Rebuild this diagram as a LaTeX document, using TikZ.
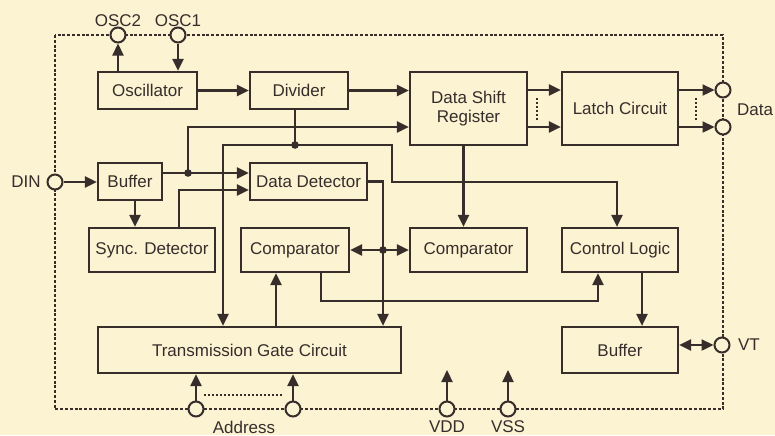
\documentclass[tikz,border=0pt]{standalone}
\usepackage{fontspec}
\setmainfont{Liberation Sans}
\usetikzlibrary{arrows.meta}
\definecolor{paper}{RGB}{252,243,211}
\definecolor{ink}{RGB}{55,45,43}
\begin{document}
\begin{tikzpicture}[x=0.5pt,y=-0.5pt,
  every node/.style={font=\fontsize{8.5}{9.5}\selectfont, text=ink},
  blk/.style={draw=ink, line width=1.1pt, inner sep=0pt, align=center},
  pin/.style={circle, draw=ink, fill=paper, line width=1pt, minimum size=7.5pt, inner sep=0pt},
  wire/.style={draw=ink, line width=1.15pt},
  arr/.style={wire, -{Triangle[length=6pt,width=5.5pt]}},
  dblarr/.style={wire, {Triangle[length=6pt,width=5.5pt]}-{Triangle[length=6pt,width=5.5pt]}},
  frame/.style={draw=ink, line width=0.9pt, dash pattern=on 1.5pt off 0.9pt},
  tick/.style={draw=ink, line width=0.8pt, dash pattern=on 1.2pt off 0.8pt}]
\fill[paper] (0,0) rectangle (775,435);
\useasboundingbox (0,0) rectangle (775,435);
\draw[frame] (55,35) rectangle (723,409);

\node[blk, minimum width=49.5pt, minimum height=18.5pt] (osc) at (147.5,90.5) {Oscillator};
\node[blk, minimum width=49pt, minimum height=18.5pt] (div) at (299,90.5) {Divider};
\node[blk, minimum width=58.5pt, minimum height=36.5pt] (dsr) at (468.5,108.5) {Data Shift\\Register};
\node[blk, minimum width=58pt, minimum height=36.5pt] (latch) at (620,108.5) {Latch Circuit};
\node[blk, minimum width=32pt, minimum height=18.5pt] (bufa) at (130,181.5) {Buffer};
\node[blk, minimum width=58.5pt, minimum height=18.5pt] (dd) at (308.5,181.5) {Data Detector};
\node[blk, minimum width=63pt, minimum height=22pt] (syncd) at (152,250) {Sync. Detector};
\node[blk, minimum width=54pt, minimum height=22pt] (cmpa) at (295,250) {Comparator};
\node[blk, minimum width=58.5pt, minimum height=22pt] (cmpb) at (468.5,250) {Comparator};
\node[blk, minimum width=58pt, minimum height=22pt] (ctrl) at (620,250) {Control Logic};
\node[blk, minimum width=151.5pt, minimum height=23pt] (tgc) at (249.5,350) {Transmission Gate Circuit};
\node[blk, minimum width=58pt, minimum height=23pt] (bufb) at (620,350) {Buffer};

\node[pin] (osctwo) at (118,35) {};
\node[pin] (oscone) at (178,35) {};
\node[pin] (din) at (55,182) {};
\node[pin] (dataa) at (723,90) {};
\node[pin] (datab) at (723,127) {};
\node[pin] (vt) at (722,345) {};
\node[pin] (addra) at (196,409) {};
\node[pin] (addrb) at (293,409) {};
\node[pin] (vdd) at (447,409) {};
\node[pin] (vss) at (508,409) {};

\node (osctwolbl) at (118,21) {OSC2};
\node (oscamlbl) at (178,21) {OSC1};
\node (dinlbl) at (26,182) {DIN};
\node (datalbl) at (755,110) {Data};
\node (vtlbl) at (749,345) {VT};
\node (addrlbl) at (244,427) {Address};
\node (vddlbl) at (447,427) {VDD};
\node (vsslbl) at (508,427) {VSS};

\coordinate (jbuf) at (188,173);
\coordinate (jdiv) at (295,145);
\coordinate (jdd) at (383,250);
\coordinate (vddend) at (447,370);
\coordinate (vssend) at (508,370);

\draw[arr] (osc.north -| osctwo) -- (osctwo);
\draw[arr] (oscone) -- (osc.north -| oscone);
\draw[arr] (osc) -- (div);
\draw[arr] (div) -- (dsr.west |- div);
\draw[arr] (dsr.east |- dataa) -- (latch.west |- dataa);
\draw[arr] (dsr.east |- datab) -- (latch.west |- datab);
\draw[arr] (latch.east |- dataa) -- (dataa);
\draw[arr] (latch.east |- datab) -- (datab);
\draw[tick] (537,98) -- (537,120);
\draw[tick] (696,98) -- (696,120);

\draw[arr] (din) -- (bufa.west |- din);
\draw[wire] (bufa.east |- jbuf) -- (jbuf);
\draw[arr] (jbuf) -- (dd.west |- jbuf);
\draw[arr] (jbuf) |- (dsr.west |- datab);
\draw[arr] ([xshift=2.5pt]bufa.south) -- ([xshift=2.5pt]bufa.south |- syncd.north);
\draw[arr] ([xshift=13.5pt]syncd.north) |- ([yshift=-4.25pt]dd.west);

\draw[wire] ([xshift=-2pt]div.south) -- (jdiv);
\draw[arr] (jdiv) -| (tgc.north -| 223,0);
\draw[arr] (jdiv) -| (392,182) -| ([xshift=-1.5pt]ctrl.north);
\draw[arr] ([xshift=-2.5pt]dsr.south) -- ([xshift=-2.5pt]cmpb.north);

\draw[wire] (dd.east) -| (jdd);
\draw[arr] (jdd) -- (cmpa);
\draw[arr] (jdd) -- (cmpb);
\draw[arr] (jdd) -- (tgc.north -| jdd);
\draw[arr] ([xshift=13pt]cmpa.south) -- ++(0,-14pt) -| ([xshift=-11pt]ctrl.south);
\draw[arr] ([xshift=13.25pt]tgc.north) -- ([xshift=13.25pt]tgc.north |- cmpa.south);
\draw[arr] ([xshift=11pt]ctrl.south) -- ([xshift=11pt]bufb.north);
\draw[dblarr] (bufb.east |- vt) -- (vt);

\draw[arr] (addra) -- (tgc.south -| addra);
\draw[arr] (addrb) -- (tgc.south -| addrb);
\draw[tick] (204,395) -- (283,395);
\draw[arr] (vdd) -- (vddend);
\draw[arr] (vss) -- (vssend);

\fill[ink] (jbuf) circle (1.9pt);
\fill[ink] (jdiv) circle (1.9pt);
\fill[ink] (jdd) circle (1.9pt);
\end{tikzpicture}
\end{document}
